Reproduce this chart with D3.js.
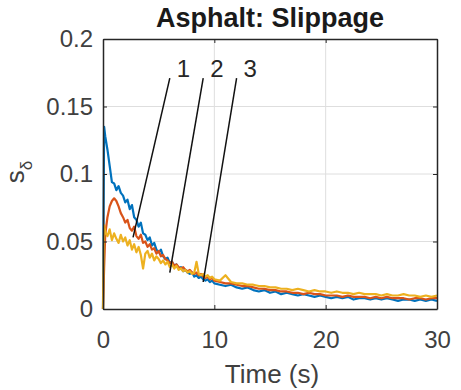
<!DOCTYPE html>
<html>
<head>
<meta charset="utf-8">
<script src="https://cdn.jsdelivr.net/npm/d3@7"></script>
<style>
  body { margin: 0; background: #fff; }
  text { font-family: "Liberation Sans", Arial, sans-serif; }
</style>
</head>
<body>
<script>
// sample times (s), shared by the three runs
const time = [
  0, 0.1, 0.2, 0.4, 0.6, 0.8, 1.0, 1.2, 1.4, 1.6,
  1.8, 2.0, 2.2, 2.4, 2.6, 2.8, 3.0, 3.2, 3.4, 3.6,
  3.8, 4.0, 4.2, 4.4, 4.6, 4.8, 5.0, 5.2, 5.4, 5.6,
  5.8, 6.0, 6.2, 6.4, 6.6, 6.8, 7.0, 7.2, 7.4, 7.6,
  7.8, 8.0, 8.2, 8.4, 8.6, 8.8, 9.0, 9.2, 9.4, 9.6,
  9.8, 10, 10.5, 11, 11.5, 12, 12.5, 13, 13.5, 14,
  14.5, 15, 15.5, 16, 16.5, 17, 17.5, 18, 18.5, 19,
  19.5, 20, 20.5, 21, 21.5, 22, 22.5, 23, 23.5, 24,
  24.5, 25, 25.5, 26, 26.5, 27, 27.5, 28, 28.5, 29,
  29.5, 30
];
const slip1 = [
  0, 0.135, 0.128, 0.118, 0.106, 0.094, 0.093, 0.088, 0.091, 0.086,
  0.084, 0.079, 0.081, 0.074, 0.077, 0.068, 0.066, 0.061, 0.064, 0.056,
  0.055, 0.051, 0.053, 0.047, 0.049, 0.044, 0.042, 0.044, 0.039, 0.037,
  0.038, 0.034, 0.035, 0.032, 0.033, 0.030, 0.031, 0.028, 0.029, 0.027,
  0.026, 0.027, 0.024, 0.025, 0.023, 0.024, 0.022, 0.021, 0.022, 0.020,
  0.021, 0.019, 0.018, 0.017, 0.018, 0.016, 0.015, 0.016, 0.014, 0.013,
  0.014, 0.012, 0.013, 0.011, 0.012, 0.011, 0.010, 0.011, 0.010, 0.009,
  0.010, 0.009, 0.008, 0.009, 0.008, 0.009, 0.007, 0.008, 0.008, 0.007,
  0.008, 0.007, 0.008, 0.007, 0.006, 0.007, 0.007, 0.006, 0.007, 0.006,
  0.007, 0.006
];
const slip2 = [
  0, 0.030, 0.055, 0.068, 0.076, 0.080, 0.082, 0.080, 0.076, 0.071,
  0.068, 0.064, 0.066, 0.060, 0.058, 0.061, 0.054, 0.052, 0.055, 0.049,
  0.050, 0.046, 0.048, 0.044, 0.045, 0.041, 0.043, 0.039, 0.040, 0.037,
  0.036, 0.034, 0.035, 0.032, 0.033, 0.031, 0.030, 0.031, 0.029, 0.028,
  0.029, 0.027, 0.026, 0.027, 0.025, 0.026, 0.024, 0.023, 0.024, 0.022,
  0.023, 0.021, 0.020, 0.019, 0.019, 0.018, 0.017, 0.017, 0.016, 0.015,
  0.015, 0.014, 0.014, 0.013, 0.013, 0.012, 0.012, 0.011, 0.012, 0.011,
  0.011, 0.010, 0.010, 0.010, 0.009, 0.010, 0.009, 0.009, 0.009, 0.008,
  0.009, 0.008, 0.009, 0.008, 0.008, 0.008, 0.007, 0.008, 0.008, 0.007,
  0.008, 0.008
];
const slip3 = [
  0, 0.062, 0.057, 0.054, 0.059, 0.051, 0.056, 0.052, 0.049, 0.055,
  0.050, 0.053, 0.047, 0.051, 0.044, 0.048, 0.042, 0.046, 0.040, 0.030,
  0.041, 0.043, 0.038, 0.041, 0.036, 0.039, 0.037, 0.034, 0.036, 0.033,
  0.035, 0.031, 0.033, 0.030, 0.032, 0.029, 0.030, 0.028, 0.029, 0.027,
  0.028, 0.026, 0.027, 0.035, 0.026, 0.025, 0.026, 0.024, 0.025, 0.023,
  0.024, 0.022, 0.021, 0.025, 0.020, 0.019, 0.019, 0.018, 0.018, 0.017,
  0.017, 0.016, 0.016, 0.015, 0.015, 0.014, 0.015, 0.014, 0.013, 0.014,
  0.013, 0.013, 0.012, 0.013, 0.012, 0.012, 0.011, 0.012, 0.011, 0.011,
  0.011, 0.010, 0.011, 0.010, 0.010, 0.011, 0.010, 0.010, 0.009, 0.010,
  0.009, 0.010
];
const seriesColors = ["#0072BD", "#D95319", "#EDB120"];

const xTicks = [0, 10, 20, 30];
const yTicks = [0, 0.05, 0.1, 0.15, 0.2];
const yTickLabels = ["0", "0.05", "0.1", "0.15", "0.2"];

// annotation arrows: label, tail (time, slip), head (time, slip)
const annoLabels = ["1", "2", "3"];
const annoTailT = [6.0, 9.0, 12.0];
const annoTailS = [0.171, 0.171, 0.171];
const annoHeadT = [2.7, 6.0, 9.0];
const annoHeadS = [0.053, 0.027, 0.020];

const W = 461, H = 390;
const x = d3.scaleLinear([0, 30], [103, 437]);
const y = d3.scaleLinear([0, 0.2], [309, 39]);
const axisCol = "#262626";
const labelCol = "#404040";

const svg = d3.select("body").append("svg")
  .attr("width", W).attr("height", H);

// grid
svg.append("g").selectAll("line")
  .data(xTicks.slice(1, -1))
  .join("line")
    .attr("x1", d => x(d)).attr("x2", d => x(d))
    .attr("y1", y(0)).attr("y2", y(0.2))
    .attr("stroke", "#dedede").attr("stroke-width", 1);
svg.append("g").selectAll("line")
  .data(yTicks.slice(1, -1))
  .join("line")
    .attr("x1", x(0)).attr("x2", x(30))
    .attr("y1", d => y(d)).attr("y2", d => y(d))
    .attr("stroke", "#dedede").attr("stroke-width", 1);

// data
const line = d3.line()
  .x((d, i) => x(time[i]))
  .y(d => y(d));

[slip1, slip2, slip3].forEach((s, k) => {
  svg.append("path")
    .datum(s)
    .attr("fill", "none")
    .attr("stroke", seriesColors[k])
    .attr("stroke-width", 2.2)
    .attr("stroke-linejoin", "round")
    .attr("d", line);
});

// axes, ticks pointing inwards on all four sides
const styleAxis = g => {
  g.select(".domain").attr("stroke", axisCol).attr("stroke-width", 1.5);
  g.selectAll(".tick line").attr("stroke", axisCol);
  g.selectAll("text")
    .attr("fill", labelCol)
    .style("font-family", '"Liberation Sans", Arial, sans-serif')
    .style("font-size", "24px");
};

svg.append("g")
  .attr("transform", `translate(0,${y(0)})`)
  .call(d3.axisBottom(x).tickValues(xTicks).tickSize(-4).tickSizeOuter(0))
  .call(styleAxis)
  .call(g => g.selectAll("text").attr("dy", null).attr("y", 39));

svg.append("g")
  .attr("transform", `translate(0,${y(0.2)})`)
  .call(d3.axisTop(x).tickValues(xTicks).tickSize(-4).tickSizeOuter(0).tickFormat(""))
  .call(styleAxis);

svg.append("g")
  .attr("transform", `translate(${x(0)},0)`)
  .call(d3.axisLeft(y).tickValues(yTicks).tickSize(-4).tickSizeOuter(0).tickPadding(10)
    .tickFormat((d, i) => yTickLabels[i]))
  .call(styleAxis);

svg.append("g")
  .attr("transform", `translate(${x(30)},0)`)
  .call(d3.axisRight(y).tickValues(yTicks).tickSize(-4).tickSizeOuter(0).tickFormat(""))
  .call(styleAxis);

// annotations
const anno = svg.append("g");
annoLabels.forEach((lab, i) => {
  anno.append("line")
    .attr("x1", x(annoTailT[i])).attr("y1", y(annoTailS[i]))
    .attr("x2", x(annoHeadT[i])).attr("y2", y(annoHeadS[i]))
    .attr("stroke", "#111").attr("stroke-width", 1.5);
  anno.append("text")
    .attr("x", x(annoTailT[i]) + 7)
    .attr("y", y(annoTailS[i]) - 1)
    .attr("fill", "#262626")
    .style("font-size", "24px")
    .text(lab);
});

// titles
svg.append("text")
  .attr("x", 270).attr("y", 27)
  .attr("text-anchor", "middle")
  .attr("fill", "#1a1a1a")
  .style("font-size", "27px").style("font-weight", "bold")
  .text("Asphalt: Slippage");

svg.append("text")
  .attr("x", 272).attr("y", 383)
  .attr("text-anchor", "middle")
  .attr("fill", labelCol)
  .style("font-size", "26px")
  .text("Time (s)");

const yl = svg.append("text")
  .attr("transform", "translate(24,172) rotate(-90)")
  .attr("text-anchor", "middle")
  .attr("fill", labelCol)
  .style("font-size", "26px");
yl.append("tspan").text("s");
yl.append("tspan").attr("dy", 8).style("font-size", "17px").text("δ");
</script>
</body>
</html>
